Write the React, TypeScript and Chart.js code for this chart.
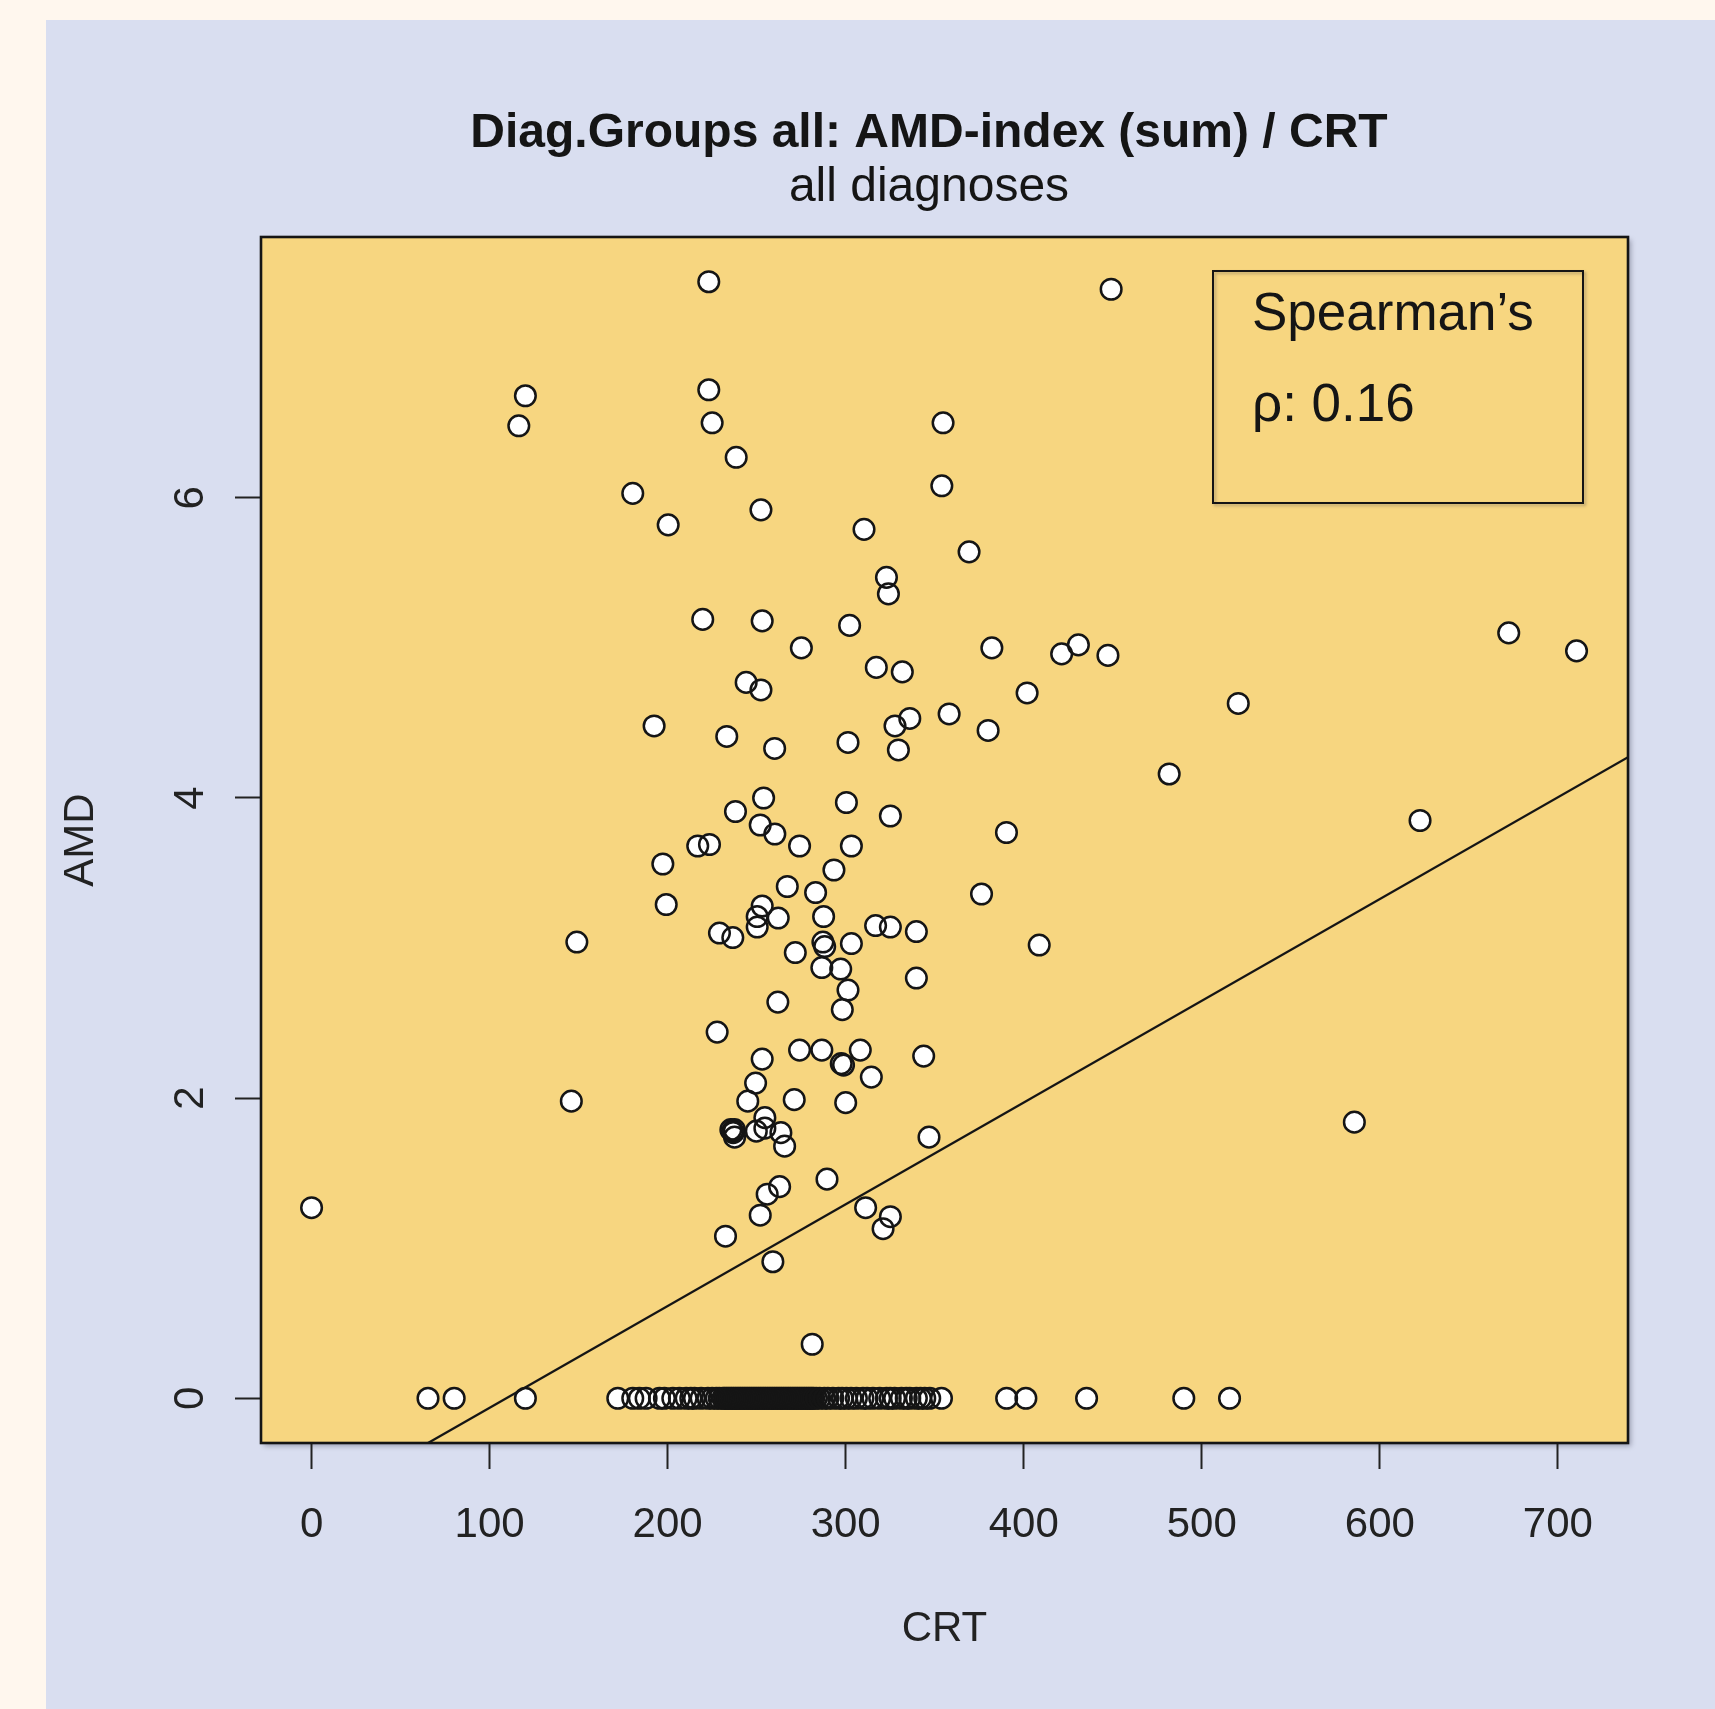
import React, { useEffect, useRef } from "react";
import { Chart, registerables } from "chart.js";

Chart.register(...registerables);

const W = 1715;
const H = 1709;
const FONT = '"Liberation Sans", Arial, Helvetica, sans-serif';

const titleText = "Diag.Groups all: AMD-index (sum) / CRT";
const subtitleText = "all diagnoses";
const xAxisTitle = "CRT";
const yAxisTitle = "AMD";
const legendLines = ["Spearman\u2019s", "\u03c1: 0.16"];

const xTickValues = [0, 100, 200, 300, 400, 500, 600, 700];
const yTickValues = [0, 2, 4, 6];

// points with AMD > 0
const crtScores = [
  223.1, 449.1, 120.1, 116.4, 223.1, 225.0, 238.5, 354.7, 354.0, 180.4,
  200.3, 252.4, 310.3, 369.3, 322.9, 324.0, 219.7, 253.1, 302.2, 275.1,
  382.1, 421.3, 430.7, 447.3, 672.4, 710.5, 317.2, 331.8, 244.1, 252.4,
  401.9, 520.5, 192.4, 233.2, 260.1, 301.3, 327.7, 336.0, 329.6, 358.1,
  380.0, 481.7, 253.9, 300.4, 238.1, 325.1, 252.0, 260.2, 390.3, 622.6,
  216.9, 223.5, 274.1, 303.2, 197.3, 293.4, 267.2, 283.1, 376.3, 199.2,
  253.1, 250.3, 250.3, 262.1, 287.6, 229.1, 236.6, 316.8, 325.1, 339.7,
  149.0, 287.2, 288.2, 303.2, 271.7, 408.7, 286.6, 297.2, 339.7, 301.3,
  298.1, 261.9, 227.8, 253.1, 274.1, 286.6, 308.2, 297.5, 298.8, 343.8,
  314.4, 249.4, 145.9, 245.0, 271.1, 300.0, 254.6, 235.5, 236.5, 237.5,
  236.8, 237.6, 249.8, 254.6, 263.6, 265.7, 346.8, 585.7, 289.5, 262.9,
  255.9, 252.0, 311.2, 325.1, 321.0, 232.5, 0, 259.1, 281.2,
];
const amdScores = [
  7.44, 7.39, 6.68, 6.48, 6.72, 6.50, 6.27, 6.50, 6.08, 6.03,
  5.82, 5.92, 5.79, 5.64, 5.47, 5.36, 5.19, 5.18, 5.15, 5.00,
  5.00, 4.96, 5.02, 4.95, 5.10, 4.98, 4.87, 4.84, 4.77, 4.72,
  4.70, 4.63, 4.48, 4.41, 4.33, 4.37, 4.48, 4.53, 4.32, 4.56,
  4.45, 4.16, 4.00, 3.97, 3.91, 3.88, 3.82, 3.76, 3.77, 3.85,
  3.68, 3.69, 3.68, 3.68, 3.56, 3.52, 3.41, 3.37, 3.36, 3.29,
  3.28, 3.21, 3.14, 3.20, 3.21, 3.10, 3.07, 3.15, 3.14, 3.11,
  3.04, 3.04, 3.01, 3.03, 2.97, 3.02, 2.87, 2.86, 2.80, 2.72,
  2.59, 2.64, 2.44, 2.26, 2.32, 2.32, 2.32, 2.23, 2.22, 2.28,
  2.14, 2.10, 1.98, 1.98, 1.99, 1.97, 1.87, 1.79, 1.78, 1.79,
  1.77, 1.74, 1.78, 1.80, 1.77, 1.68, 1.74, 1.84, 1.46, 1.41,
  1.36, 1.22, 1.27, 1.21, 1.13, 1.08, 1.27, 0.91, 0.36,
];

// CRT values of the points with AMD = 0
const crtZeroAmd = [
  65.4, 80.1, 120.1, 172.0, 180.4, 184.1, 187.9, 195.4, 198.2, 202.9,
  206.6, 210.4, 213.0, 215.1, 218.8, 222.6, 225.0, 227.3, 229.0, 231.0,
  232, 233, 234, 235, 236, 237, 238,
  239, 240, 241, 242, 243, 244, 245, 246, 247, 248,
  249, 250, 251, 252, 253, 254, 255, 256, 257, 258,
  259, 260, 261, 262, 263, 264, 265, 266, 267, 268,
  269, 270, 271, 272, 273, 274, 275, 276, 277, 278,
  279, 280, 281, 282, 283.5, 285.4, 288, 290, 292.8,
  296, 298, 300.4, 303, 306.0, 309.7, 312, 315.3, 319.1,
  322.9, 325, 327.5, 331.3, 334, 336.0, 339.7, 342, 344.4, 347.2,
  353.8, 390.4, 401.2, 435.3, 489.9, 515.6,
];

// fitted line (two end points, data units)
const regLineCrt = [65.4, 739.4];
const regLineAmd = [-0.298, 4.272];

const xRange = [-28.4, 739.4];
const yRange = [-0.298, 7.738];

const decorPlugin = {
  id: "decor",
  beforeDraw(chart: any) {
    const { ctx, chartArea: a } = chart;
    ctx.save();
    ctx.shadowColor = "rgba(40,40,60,0.35)";
    ctx.shadowBlur = 5;
    ctx.shadowOffsetX = 3;
    ctx.shadowOffsetY = 3;
    ctx.fillStyle = "#F7D680";
    ctx.fillRect(a.left, a.top, a.right - a.left, a.bottom - a.top);
    ctx.restore();
  },
  afterDraw(chart: any) {
    const { ctx, chartArea: a } = chart;
    ctx.save();
    // plot frame
    ctx.strokeStyle = "#151515";
    ctx.lineWidth = 2.6;
    ctx.strokeRect(a.left, a.top, a.right - a.left, a.bottom - a.top);

    // legend box (top right)
    const lx = a.right - 415;
    const ly = a.top + 34;
    const lw = 370;
    const lh = 232;
    ctx.save();
    ctx.shadowColor = "rgba(40,40,60,0.3)";
    ctx.shadowBlur = 3;
    ctx.shadowOffsetX = 2;
    ctx.shadowOffsetY = 2;
    ctx.strokeStyle = "#151515";
    ctx.lineWidth = 2;
    ctx.strokeRect(lx, ly, lw, lh);
    ctx.restore();
    ctx.fillStyle = "#151515";
    ctx.font = `53px ${FONT}`;
    ctx.textAlign = "left";
    ctx.textBaseline = "alphabetic";
    ctx.fillText(legendLines[0], lx + 39, ly + 59);
    ctx.fillText(legendLines[1], lx + 39, ly + 150);

    // title and subtitle
    ctx.textAlign = "center";
    ctx.font = `bold 48px ${FONT}`;
    ctx.fillText(titleText, 929, 147);
    ctx.font = `48px ${FONT}`;
    ctx.fillText(subtitleText, 929, 201);
    ctx.restore();
  },
};

export default function App() {
  const ref = useRef<HTMLCanvasElement>(null);

  useEffect(() => {
    const pts = crtScores.map((c, i) => ({ x: c, y: amdScores[i] }));
    const zeros = crtZeroAmd.map((c) => ({ x: c, y: 0 }));
    const allPts = [...zeros, ...pts];
    const line = regLineCrt.map((c, i) => ({ x: c, y: regLineAmd[i] }));

    const axisFont = { family: FONT, size: 42 };
    const axisColor = "#222222";

    const chart = new Chart(ref.current as HTMLCanvasElement, {
      type: "scatter",
      data: {
        datasets: [
          {
            label: "fit",
            data: line,
            showLine: true,
            borderColor: "#151515",
            borderWidth: 2.3,
            pointRadius: 0,
            order: 0,
          } as any,
          {
            label: "outline",
            data: allPts,
            pointRadius: 10.3,
            pointBorderWidth: 2.5,
            pointBorderColor: "#151515",
            pointBackgroundColor: "rgba(0,0,0,0)",
            order: 1,
          },
          {
            label: "fill",
            data: allPts,
            pointRadius: 10.3,
            pointBorderWidth: 0,
            pointBorderColor: "rgba(0,0,0,0)",
            pointBackgroundColor: "#FFFFFF",
            order: 2,
          },
        ],
      },
      options: {
        animation: false,
        responsive: false,
        devicePixelRatio: 1,
        events: [],
        layout: { padding: { left: 0, top: 237, right: 87, bottom: 0 } },
        plugins: {
          legend: { display: false },
          tooltip: { enabled: false },
          title: { display: false },
        },
        scales: {
          x: {
            type: "linear",
            min: xRange[0],
            max: xRange[1],
            afterBuildTicks: (s: any) => {
              s.ticks = xTickValues.map((v) => ({ value: v }));
            },
            afterFit: (s: any) => {
              s.height = 266;
            },
            grid: {
              display: true,
              drawOnChartArea: false,
              drawTicks: true,
              tickLength: 26,
              tickWidth: 2,
              tickColor: "#222",
              color: "#222",
            },
            border: { display: false },
            ticks: {
              font: axisFont,
              color: axisColor,
              padding: 31,
              maxRotation: 0,
              minRotation: 0,
              autoSkip: false,
            },
            title: {
              display: true,
              text: xAxisTitle,
              font: axisFont,
              color: axisColor,
              padding: { top: 0, bottom: 54 },
            },
          },
          y: {
            type: "linear",
            min: yRange[0],
            max: yRange[1],
            afterBuildTicks: (s: any) => {
              s.ticks = yTickValues.map((v) => ({ value: v }));
            },
            afterFit: (s: any) => {
              s.width = 261;
            },
            grid: {
              display: true,
              drawOnChartArea: false,
              drawTicks: true,
              tickLength: 26,
              tickWidth: 2,
              tickColor: "#222",
              color: "#222",
            },
            border: { display: false },
            ticks: {
              font: axisFont,
              color: axisColor,
              minRotation: 90,
              maxRotation: 90,
              crossAlign: "center",
              padding: 32,
              autoSkip: false,
            },
            title: {
              display: true,
              text: yAxisTitle,
              font: axisFont,
              color: axisColor,
              padding: { top: 56, bottom: 0 },
            },
          },
        },
      } as any,
      plugins: [decorPlugin],
    });
    return () => chart.destroy();
  }, []);

  return (
    <div
      style={{
        position: "absolute",
        left: 0,
        top: 0,
        width: W,
        height: H,
        background: "#FFF7EE",
        overflow: "hidden",
      }}
    >
      <div
        style={{
          position: "absolute",
          left: 46,
          top: 20,
          width: W - 46,
          height: H - 20,
          background: "#D9DEF0",
        }}
      />
      <canvas
        ref={ref}
        width={W}
        height={H}
        style={{ position: "absolute", left: 0, top: 0, width: W, height: H }}
      />
    </div>
  );
}
